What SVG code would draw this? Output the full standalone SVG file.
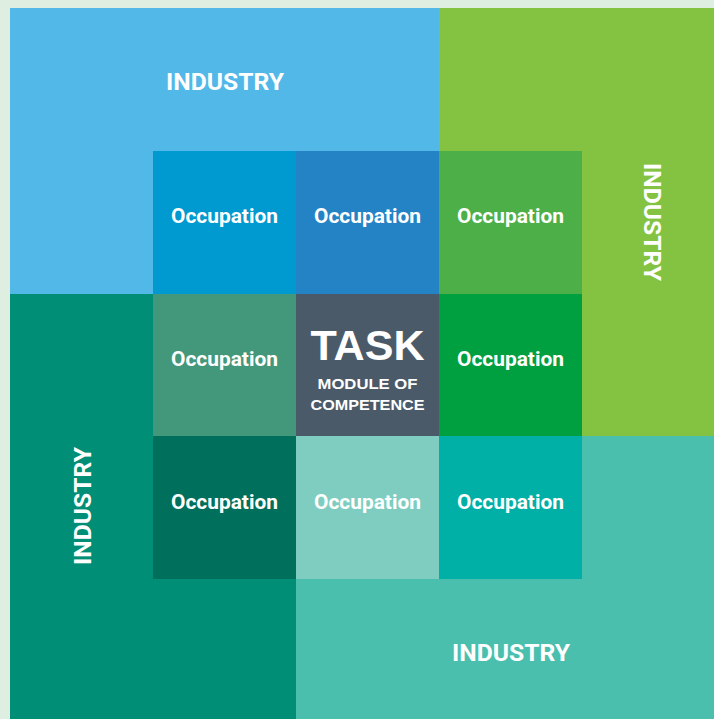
<svg xmlns="http://www.w3.org/2000/svg" width="714" height="719" viewBox="0 0 714 719">
<style>
.occ{font-family:Roboto,"Liberation Sans",sans-serif;font-weight:bold;font-size:20px;fill:#fff;text-anchor:middle}
.ind{font-family:Roboto,"Liberation Sans",sans-serif;font-weight:bold;font-size:23px;fill:#fff;text-anchor:middle}
.task{font-family:"Liberation Sans",Arial,sans-serif;font-weight:bold;fill:#fff;text-anchor:middle}
</style>
<rect x="0" y="0" width="714" height="719" fill="#deeee0"/>
<g id="industry-top"><rect x="10" y="8" width="429" height="286" fill="#52b8e8"/><text class="ind" x="225" y="90" textLength="118" lengthAdjust="spacingAndGlyphs">INDUSTRY</text></g>
<g id="industry-right"><rect x="439" y="8" width="275" height="428" fill="#84c341"/><text class="ind" transform="translate(644,222) rotate(90)" x="0" y="0" textLength="118" lengthAdjust="spacingAndGlyphs">INDUSTRY</text></g>
<g id="industry-bottom"><rect x="296" y="436" width="418" height="283" fill="#4abfae"/><text class="ind" x="511" y="661" textLength="118" lengthAdjust="spacingAndGlyphs">INDUSTRY</text></g>
<g id="industry-left"><rect x="10" y="294" width="286" height="425" fill="#008e76"/><text class="ind" transform="translate(91,506) rotate(-90)" x="0" y="0" textLength="118" lengthAdjust="spacingAndGlyphs">INDUSTRY</text></g>
<g id="occ-1"><rect x="153" y="151" width="143" height="143" fill="#0099d0"/><text class="occ" x="224.5" y="223" textLength="107" lengthAdjust="spacingAndGlyphs">Occupation</text></g>
<g id="occ-2"><rect x="296" y="151" width="143" height="143" fill="#2483c5"/><text class="occ" x="367.5" y="223" textLength="107" lengthAdjust="spacingAndGlyphs">Occupation</text></g>
<g id="occ-3"><rect x="439" y="151" width="143" height="143" fill="#4caf48"/><text class="occ" x="510.5" y="223" textLength="107" lengthAdjust="spacingAndGlyphs">Occupation</text></g>
<g id="occ-4"><rect x="153" y="294" width="143" height="142" fill="#43977a"/><text class="occ" x="224.5" y="366" textLength="107" lengthAdjust="spacingAndGlyphs">Occupation</text></g>
<g id="task"><rect x="296" y="294" width="143" height="142" fill="#4b5a68"/>
<text class="task" x="367.5" y="360" font-size="42" textLength="114" lengthAdjust="spacingAndGlyphs">TASK</text>
<text class="task" x="367.5" y="389" font-size="14" textLength="100" lengthAdjust="spacingAndGlyphs">MODULE OF</text>
<text class="task" x="367.5" y="410" font-size="14" textLength="114" lengthAdjust="spacingAndGlyphs">COMPETENCE</text></g>
<g id="occ-5"><rect x="439" y="294" width="143" height="142" fill="#009f40"/><text class="occ" x="510.5" y="366" textLength="107" lengthAdjust="spacingAndGlyphs">Occupation</text></g>
<g id="occ-6"><rect x="153" y="436" width="143" height="143" fill="#00705c"/><text class="occ" x="224.5" y="509" textLength="107" lengthAdjust="spacingAndGlyphs">Occupation</text></g>
<g id="occ-7"><rect x="296" y="436" width="143" height="143" fill="#7ecdc0"/><text class="occ" x="367.5" y="509" textLength="107" lengthAdjust="spacingAndGlyphs">Occupation</text></g>
<g id="occ-8"><rect x="439" y="436" width="143" height="143" fill="#00b0a6"/><text class="occ" x="510.5" y="509" textLength="107" lengthAdjust="spacingAndGlyphs">Occupation</text></g>
<g id="connectors"/>
</svg>
